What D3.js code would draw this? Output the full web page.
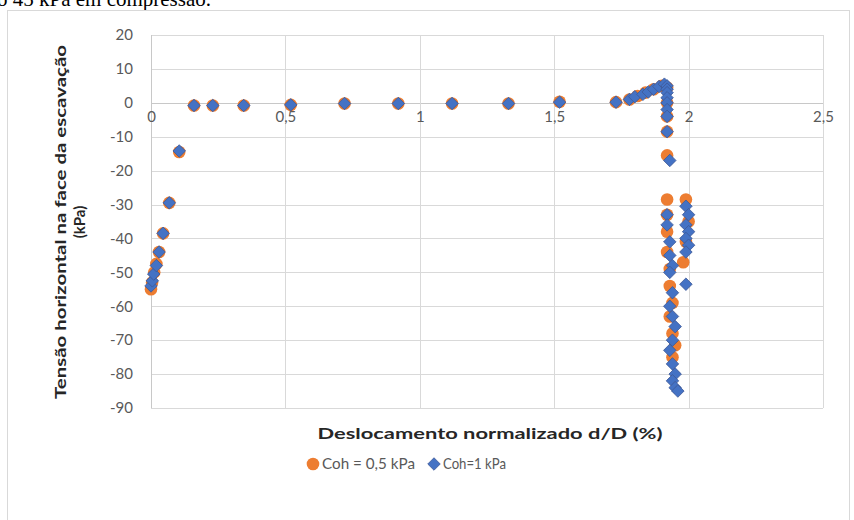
<!DOCTYPE html>
<html>
<head>
<meta charset="utf-8">
<script src="https://cdn.jsdelivr.net/npm/d3@7"></script>
<style>
  body { margin: 0; background: #fff; }
  svg text { font-family: Lato, "Open Sans", sans-serif; }
</style>
</head>
<body>
<div id="chart"></div>
<script>
// Coh = 0,5 kPa  [d/D (%), tensão (kPa)]
var coh05 = [
  [0.0, -55], [0.004, -53], [0.012, -50], [0.02, -47.5], [0.03, -44], [0.045, -38.5],
  [0.068, -29.5], [0.105, -14.5], [0.16, -0.8], [0.23, -0.8], [0.345, -0.8], [0.52, -0.6],
  [0.72, -0.2], [0.92, -0.2], [1.12, -0.2], [1.33, -0.2], [1.52, 0.3], [1.73, 0.2],
  [1.78, 1], [1.81, 2], [1.84, 3], [1.87, 4], [1.9, 5], [1.92, 4.5], [1.92, 0],
  [1.92, -4], [1.92, -8.5], [1.92, -15.5], [1.92, -28.5], [1.99, -28.5], [1.92, -33],
  [2.0, -35], [1.92, -38], [1.99, -41], [1.92, -44], [1.98, -47], [1.93, -49],
  [1.93, -54], [1.94, -59], [1.93, -63], [1.94, -68], [1.95, -71.5], [1.94, -75]
];
var coh1 = [
  [0.0, -54], [0.005, -52.5], [0.01, -50.5], [0.02, -48], [0.03, -44], [0.045, -38.5],
  [0.068, -29.5], [0.105, -14.2], [0.16, -0.8], [0.23, -0.8], [0.345, -0.8], [0.52, -0.6],
  [0.72, -0.2], [0.92, -0.2], [1.12, -0.2], [1.33, -0.2], [1.52, 0.2], [1.73, 0.2],
  [1.78, 1], [1.8, 1.8], [1.83, 2.5], [1.85, 3.2], [1.87, 4], [1.89, 4.8], [1.91, 5.5],
  [1.92, 5], [1.92, 4], [1.92, 3], [1.92, 1.5], [1.92, 0], [1.92, -2], [1.92, -4],
  [1.92, -8.5], [1.93, -17], [1.92, -33], [1.92, -36], [1.93, -41], [1.93, -45],
  [1.94, -48], [1.93, -50], [1.94, -56], [1.93, -60], [1.94, -63], [1.95, -66],
  [1.94, -70], [1.93, -73], [1.94, -77], [1.95, -80], [1.94, -82], [1.95, -84], [1.96, -85],
  [1.99, -30.5], [2.0, -33], [1.99, -36], [2.0, -38], [1.99, -40], [2.0, -42], [1.99, -44],
  [1.99, -53.5]
];
var xTicks = [0, 0.5, 1, 1.5, 2, 2.5];
var yTicks = [20, 10, 0, -10, -20, -30, -40, -50, -60, -70, -80, -90];
var seriesNames = ["Coh = 0,5 kPa", "Coh=1 kPa"];

var W = 854, H = 520;
var svg = d3.select("#chart").append("svg")
  .attr("width", W).attr("height", H);

// text of the page above the figure, cut off at the top
svg.append("text")
  .attr("x", -3).attr("y", 6)
  .style("font-family", "'Liberation Serif', serif")
  .style("font-size", "21px")
  .attr("fill", "#000")
  .text("o 45 kPa em compressão.");

// chart border
svg.append("rect")
  .attr("x", 7.5).attr("y", 10.5)
  .attr("width", 842).attr("height", 520)
  .attr("fill", "#fff")
  .attr("stroke", "#d9d9d9");

var x = d3.scaleLinear().domain([0, 2.5]).range([151, 823]);
var y = d3.scaleLinear().domain([-90, 20]).range([408, 35]);

// gridlines
svg.append("g").selectAll("line.h")
  .data(yTicks).enter().append("line")
  .attr("x1", x(0)).attr("x2", x(2.5))
  .attr("y1", function(d) { return Math.round(y(d)) + 0.5; })
  .attr("y2", function(d) { return Math.round(y(d)) + 0.5; })
  .attr("stroke", function(d) { return d === 0 ? "#c8c8c8" : "#d9d9d9"; });
svg.append("g").selectAll("line.v")
  .data(xTicks).enter().append("line")
  .attr("y1", y(20)).attr("y2", y(-90))
  .attr("x1", function(d) { return Math.round(x(d)) + 0.5; })
  .attr("x2", function(d) { return Math.round(x(d)) + 0.5; })
  .attr("stroke", function(d) { return d === 0 ? "#c8c8c8" : "#d9d9d9"; });

// y tick labels
var yAxis = d3.axisLeft(y).tickValues(yTicks).tickSize(0).tickPadding(0)
  .tickFormat(function(d) { return d; });
var gy = svg.append("g").attr("transform", "translate(133,0)").call(yAxis);
gy.select(".domain").remove();
gy.selectAll("text").style("font-size", "15px").attr("fill", "#595959")
  .style("font-family", "Lato, sans-serif");

// x tick labels (axis crosses at y = 0)
var xAxis = d3.axisBottom(x).tickValues(xTicks).tickSize(0).tickPadding(0)
  .tickFormat(function(d) { return String(d).replace(".", ","); });
var gx = svg.append("g").attr("transform", "translate(0," + (y(0) + 19) + ")").call(xAxis);
gx.select(".domain").remove();
gx.selectAll("text").attr("dy", 0).style("font-size", "15px").attr("fill", "#595959")
  .style("font-family", "Lato, sans-serif");

// axis titles
svg.append("text")
  .attr("transform", "translate(66,222) rotate(-90)")
  .attr("text-anchor", "middle")
  .style("font-size", "15px").style("font-weight", "bold")
  .attr("textLength", 354).attr("lengthAdjust", "spacingAndGlyphs")
  .attr("fill", "#262626")
  .text("Tensão  horizontal na face da escavação");
svg.append("text")
  .attr("transform", "translate(85,222) rotate(-90)")
  .attr("text-anchor", "middle")
  .style("font-size", "15px").style("font-weight", "bold")
  .attr("fill", "#262626")
  .text("(kPa)");
svg.append("text")
  .attr("x", 490).attr("y", 439)
  .attr("text-anchor", "middle")
  .style("font-size", "15px").style("font-weight", "bold")
  .attr("textLength", 345).attr("lengthAdjust", "spacingAndGlyphs")
  .attr("fill", "#262626")
  .text("Deslocamento  normalizado  d/D (%)");

var orange = "#ed7d31", blue = "#4472c4";
var diamond = d3.symbol().type(d3.symbolDiamond2).size(100);

// series
svg.append("g").selectAll("circle")
  .data(coh05).enter().append("circle")
  .attr("cx", function(d) { return x(d[0]); })
  .attr("cy", function(d) { return y(d[1]); })
  .attr("r", 6.3)
  .attr("fill", orange);
svg.append("g").selectAll("path")
  .data(coh1).enter().append("path")
  .attr("d", diamond)
  .attr("transform", function(d) { return "translate(" + x(d[0]) + "," + y(d[1]) + ")"; })
  .attr("fill", blue)
  .attr("stroke", "#3d5896").attr("stroke-width", 0.8);

// legend
var leg = svg.append("g").attr("transform", "translate(0,464)");
leg.append("circle").attr("cx", 313).attr("cy", 0).attr("r", 6.3).attr("fill", orange);
leg.append("text").attr("x", 322).attr("y", 5).style("font-size", "15px")
  .attr("textLength", 93).attr("lengthAdjust", "spacingAndGlyphs")
  .attr("fill", "#595959").text(seriesNames[0]);
leg.append("path").attr("d", diamond).attr("transform", "translate(434,0)")
  .attr("fill", blue).attr("stroke", "#3d5896").attr("stroke-width", 0.8);
leg.append("text").attr("x", 443).attr("y", 5).style("font-size", "15px")
  .attr("textLength", 63).attr("lengthAdjust", "spacingAndGlyphs")
  .attr("fill", "#595959").text(seriesNames[1]);
</script>
</body>
</html>
